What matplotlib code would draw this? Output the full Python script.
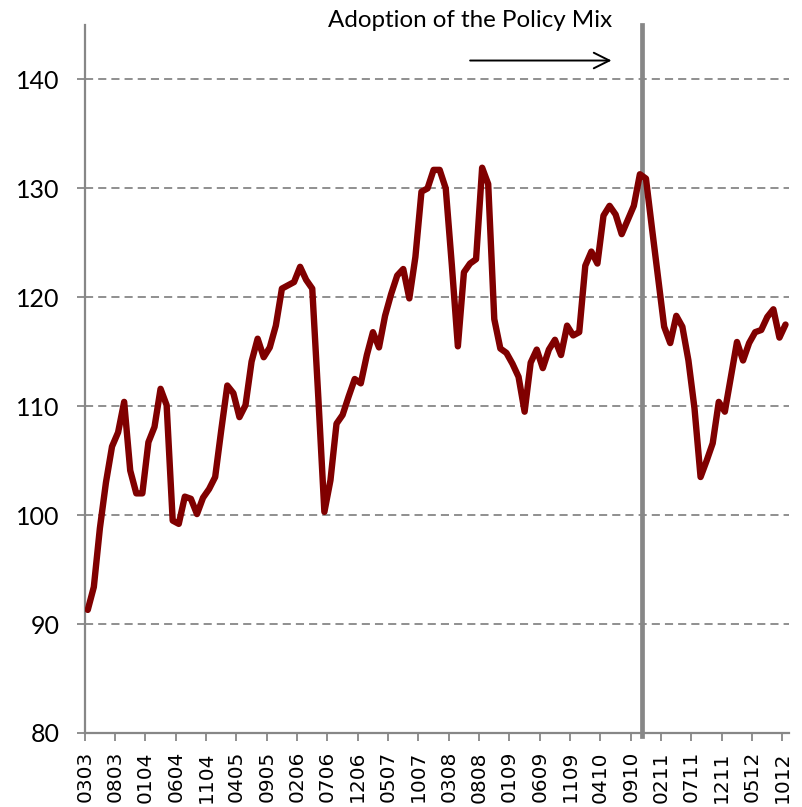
import numpy as np
import matplotlib
matplotlib.use("Agg")
import matplotlib.pyplot as plt


# monthly index, Mar 2003 .. Oct 2012
values = [91.3, 93.4, 98.8, 103.0, 106.3, 107.6, 110.4, 104.1, 102.0, 102.0,
          106.7, 108.1, 111.6, 110.1, 99.5, 99.2, 101.7, 101.5, 100.1, 101.6,
          102.4, 103.5, 107.8, 111.9, 111.2, 109.0, 110.1, 114.1, 116.2, 114.5,
          115.4, 117.4, 120.8, 121.1, 121.4, 122.8, 121.6, 120.8, 110.8, 100.3,
          103.2, 108.4, 109.2, 110.9, 112.5, 112.1, 114.7, 116.8, 115.4, 118.3,
          120.3, 122.0, 122.6, 119.9, 123.7, 129.7, 130.0, 131.7, 131.7, 130.0,
          123.0, 115.5, 122.3, 123.1, 123.5, 131.9, 130.4, 118.0, 115.3, 114.9,
          113.9, 112.7, 109.5, 114.0, 115.2, 113.5, 115.2, 116.1, 114.7, 117.4,
          116.5, 116.8, 122.9, 124.2, 123.1, 127.5, 128.4, 127.6, 125.8, 127.1,
          128.4, 131.3, 130.9, 126.3, 121.8, 117.3, 115.8, 118.3, 117.3, 114.2,
          109.8, 103.5, 105.0, 106.6, 110.4, 109.5, 112.7, 115.9, 114.2, 115.8,
          116.8, 117.0, 118.2, 118.9, 116.3, 117.5]

tick_labels = ["0303", "0803", "0104", "0604", "1104", "0405", "0905", "0206",
               "0706", "1206", "0507", "1007", "0308", "0808", "0109", "0609",
               "1109", "0410", "0910", "0211", "0711", "1211", "0512", "1012"]

policy_month = 91.8
title = "Adoption of the Policy Mix"

grey = "#878787"

fig = plt.figure(figsize=(8.03, 8.07), dpi=100)
ax = fig.add_axes([0.1055, 0.0917, 0.8765, 0.8773])

n = len(values)
x = np.arange(n) + 0.5

ax.set_xlim(0, n)
ax.set_ylim(80, 145)

for v in range(90, 141, 10):
    ax.axhline(v, color=grey, lw=1.3, ls=(0, (4.5, 2.8)), zorder=1)

ax.axvline(policy_month, color=grey, lw=3.4, zorder=2, clip_on=False, ymin=-0.004)
ax.plot(x, values, color="#800000", lw=4.6, solid_joinstyle="round",
        solid_capstyle="round", zorder=3)

ax.set_yticks(range(80, 141, 10))
ax.set_yticklabels([str(v) for v in range(80, 141, 10)], fontfamily="Lato",
                   fontsize=18)
ax.set_xticks(np.arange(0, n, 5))
ax.set_xticklabels(tick_labels, rotation=90, fontsize=14.5,
                   fontfamily="DejaVu Sans")

for s in ["top", "right"]:
    ax.spines[s].set_visible(False)
for s in ["left", "bottom"]:
    ax.spines[s].set_color(grey)
    ax.spines[s].set_linewidth(1.6)
ax.tick_params(axis="both", colors=grey, length=6, width=1.3, labelcolor="black")
ax.tick_params(axis="x", pad=7)
ax.tick_params(axis="y", pad=12)

fig.text(0.585, 0.975, title, ha="center", va="center", fontfamily="Lato",
         fontsize=17.4)
ax.annotate("", xy=(0.765, 0.925), xytext=(0.582, 0.925),
            xycoords="figure fraction",
            arrowprops=dict(arrowstyle="->", color="black", lw=1.4,
                            mutation_scale=28))

fig.savefig("out.png", dpi=100)
